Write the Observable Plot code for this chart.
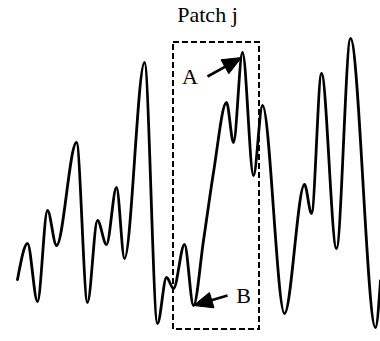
<!DOCTYPE html>
<html>
<head>
<meta charset="utf-8">
<script src="https://cdn.jsdelivr.net/npm/d3@7"></script>
<script src="https://cdn.jsdelivr.net/npm/@observablehq/plot@0.6"></script>
<style>
  html, body { margin: 0; padding: 0; background: #fff; }
  svg { display: block; }
</style>
</head>
<body>
<div id="chart"></div>
<script>
// Signal (in picture units)
const curveX = [17, 27, 37, 47, 56, 76, 87, 97, 106, 116, 124, 144, 157, 166, 173, 184, 193, 203, 213, 226, 233, 242, 253, 262, 284, 304, 311, 321, 336, 350, 375, 380];
const curveY = [279, 243, 301, 210, 245, 142, 302, 220, 244, 187, 258, 62, 323, 277, 288, 244, 305, 240, 172, 102, 142, 52, 175, 105, 313, 184, 213, 73, 248, 38, 327, 280];

// Patch box
const patchX = [173, 259];
const patchY = [42, 329];
const patchTitle = "Patch j";

// Labels and arrows
const labelNames = ["A", "B"];
const labelX = [189.5, 243];
const labelY = [76, 295];
const arrowTailX = [207, 227];
const arrowTailY = [76, 295];
const arrowTipX = [241, 193];
const arrowTipY = [57, 305];

const curve = curveX.map((x, i) => ({x, y: curveY[i]}));

const HEAD_LEN = 19, HEAD_HALF = 8;
const shafts = [], heads = [];
labelNames.forEach((name, i) => {
  const tx = arrowTailX[i], ty = arrowTailY[i], px = arrowTipX[i], py = arrowTipY[i];
  const dx = px - tx, dy = py - ty, L = Math.hypot(dx, dy);
  const ux = dx / L, uy = dy / L;
  const bx = px - ux * HEAD_LEN, by = py - uy * HEAD_LEN;
  shafts.push({x1: tx, y1: ty, x2: bx + ux * 2, y2: by + uy * 2});
  const pts = [
    [px, py],
    [bx - uy * HEAD_HALF, by + ux * HEAD_HALF],
    [bx + uy * HEAD_HALF, by - ux * HEAD_HALF],
    [px, py]
  ];
  pts.forEach(([x, y]) => heads.push({name, x, y}));
});

const labels = labelNames.map((t, i) => ({t, x: labelX[i], y: labelY[i]}));

const font = "'Liberation Serif', 'Times New Roman', serif";

const chart = Plot.plot({
  width: 380,
  height: 341,
  margin: 0,
  style: {background: "#fff", fontFamily: font},
  x: {domain: [0, 380], range: [0, 380], axis: null},
  y: {domain: [0, 341], range: [0, 341], axis: null},
  marks: [
    Plot.rect([{x1: patchX[0], x2: patchX[1], y1: patchY[0], y2: patchY[1]}], {
      x1: "x1", x2: "x2", y1: "y1", y2: "y2",
      fill: "none", stroke: "black", strokeWidth: 2, strokeDasharray: "6,3"
    }),
    Plot.line(curve, {x: "x", y: "y", curve: "monotone-x", stroke: "black", strokeWidth: 2.8}),
    Plot.link(shafts, {x1: "x1", y1: "y1", x2: "x2", y2: "y2", stroke: "black", strokeWidth: 2.6}),
    Plot.line(heads, {x: "x", y: "y", z: "name", fill: "black", stroke: "black", strokeWidth: 1, curve: "linear"}),
    Plot.text(labels, {x: "x", y: "y", text: "t", fontSize: 22, fontFamily: font, fill: "black"}),
    Plot.text([patchTitle], {x: () => 207, y: () => 14, text: d => d, fontSize: 22, fontFamily: font, fill: "black"})
  ]
});
document.getElementById("chart").appendChild(chart);
</script>
</body>
</html>
